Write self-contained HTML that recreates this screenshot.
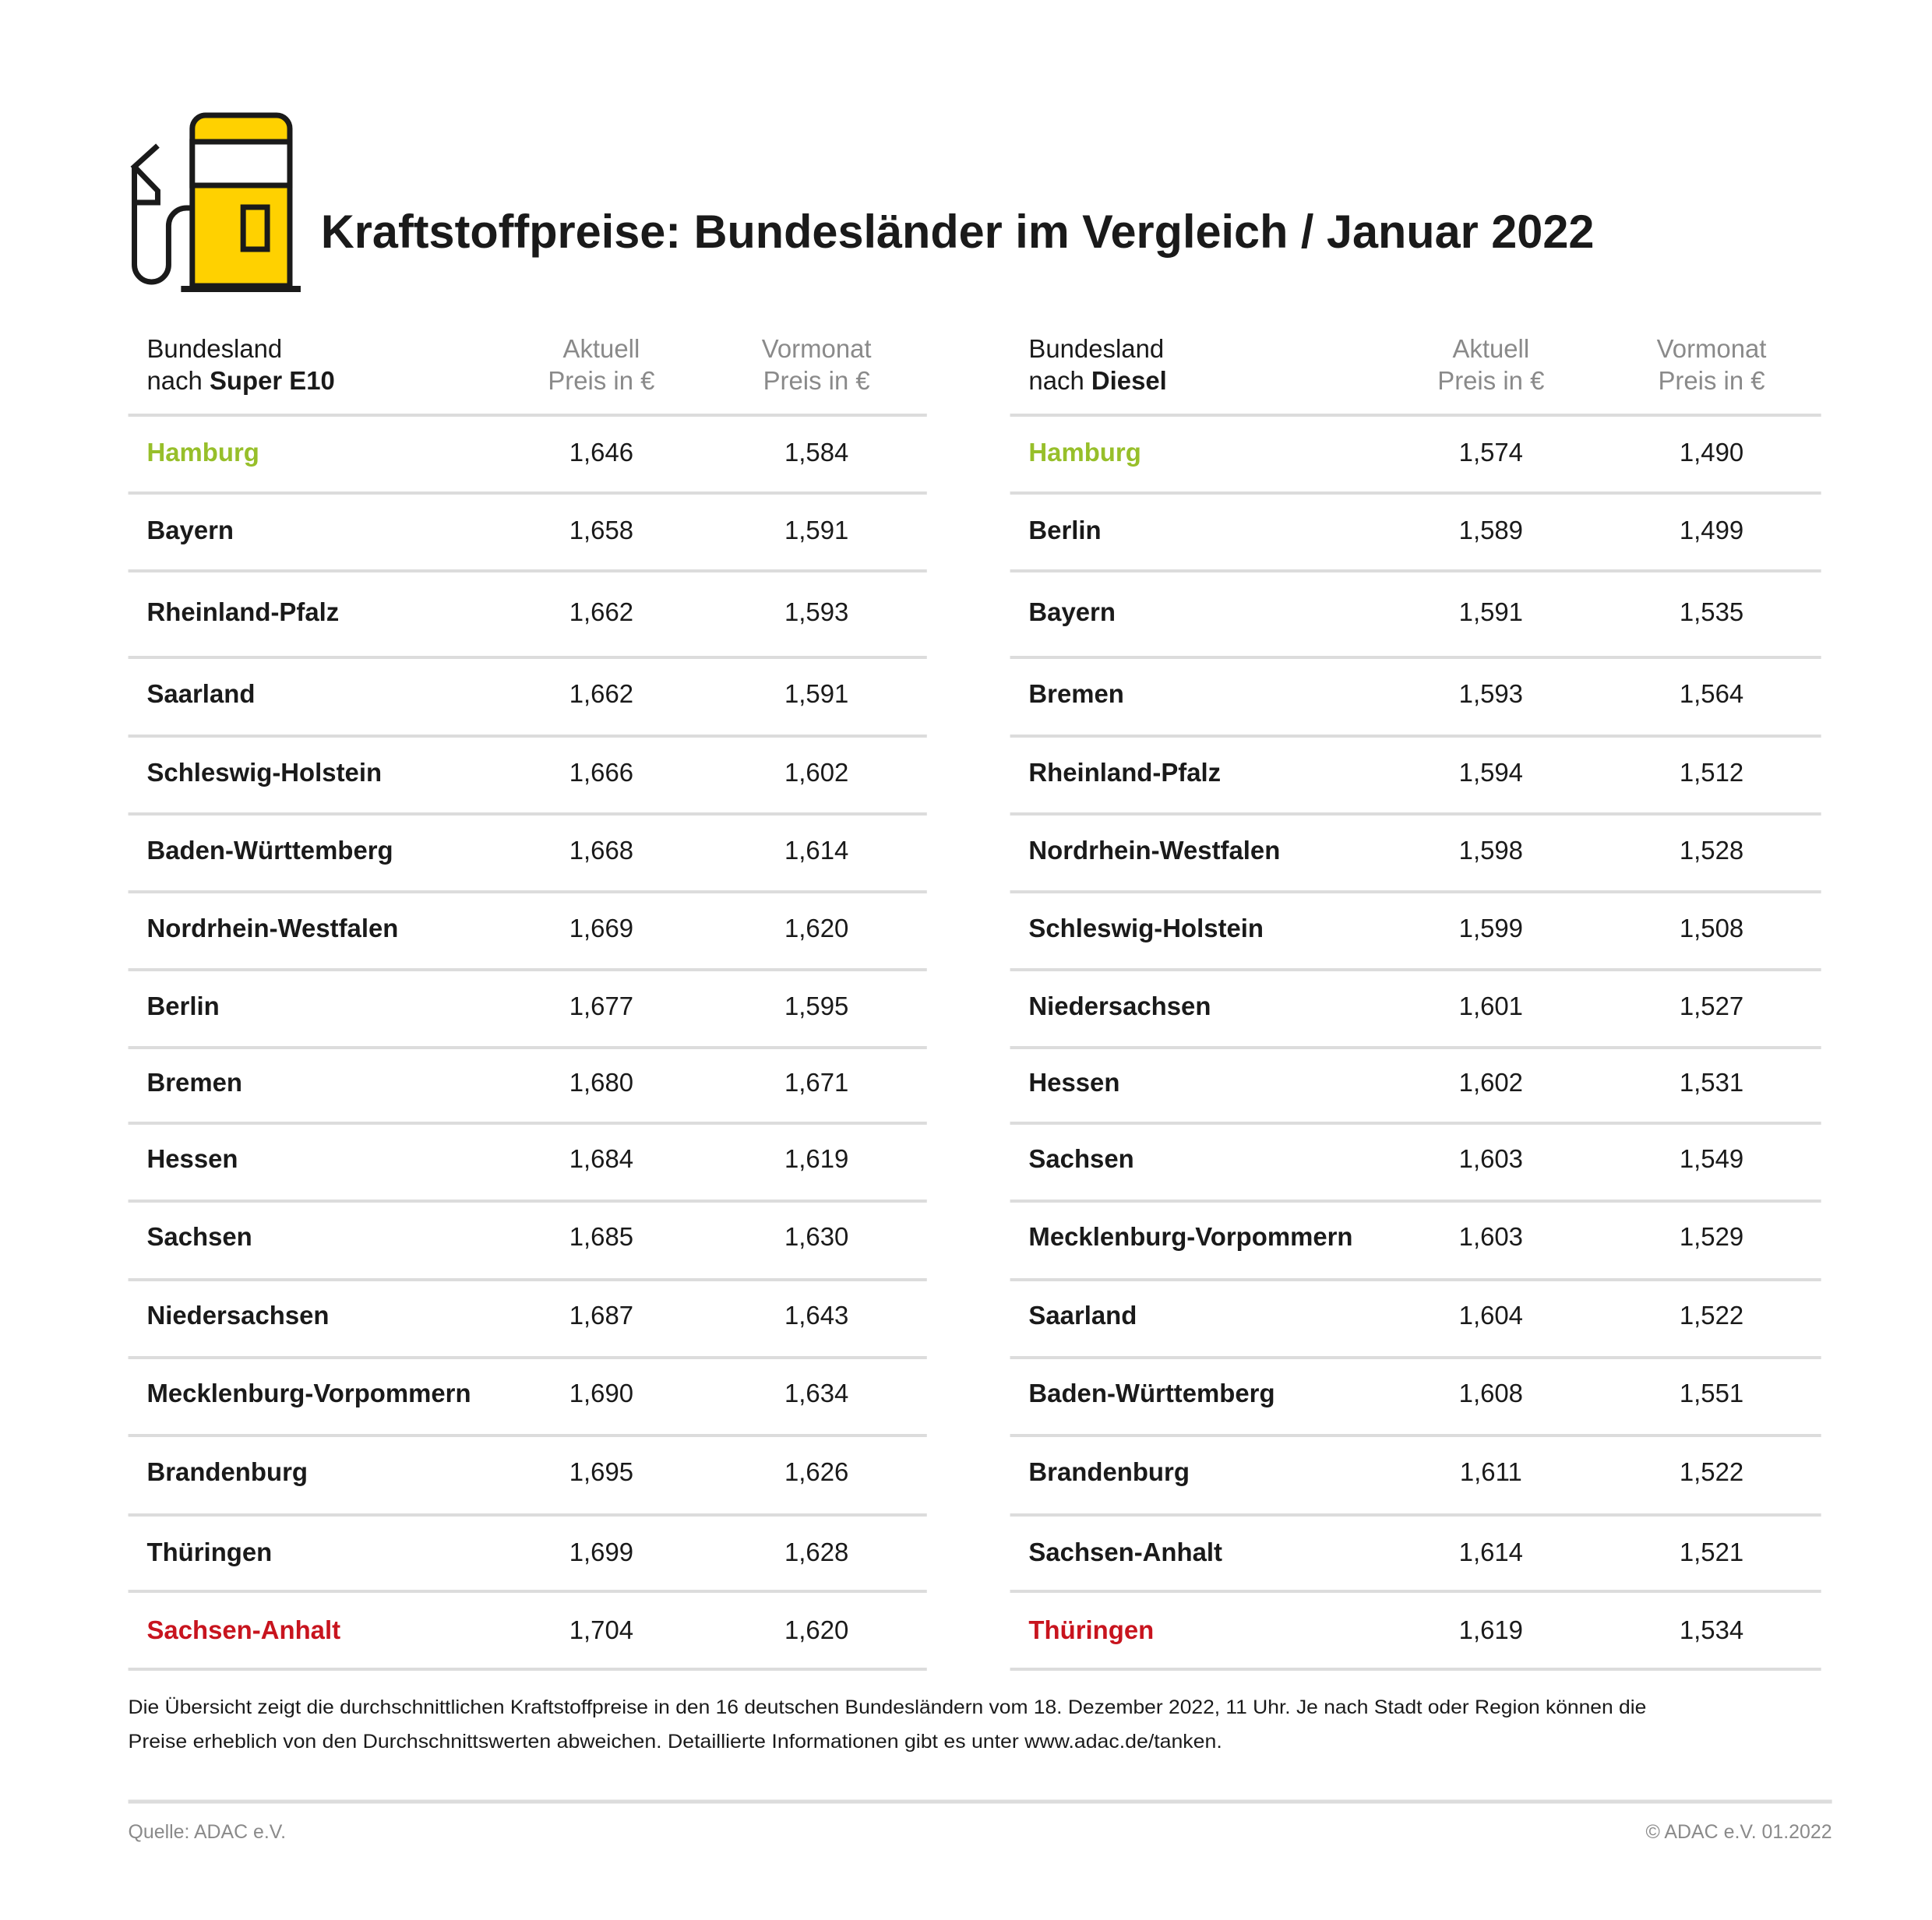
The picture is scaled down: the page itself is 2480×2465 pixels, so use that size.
<!DOCTYPE html>
<html><head><meta charset="utf-8"><style>
html,body{margin:0;padding:0;background:#fff}
svg{display:block}
text{font-family:"Liberation Sans",sans-serif}
.n{font-size:33px;fill:#1a1a1a;font-weight:bold}
.v{font-size:33px;fill:#1a1a1a;text-anchor:middle}
.h{font-size:33px;fill:#1a1a1a}
.g{font-size:33px;fill:#8a8a8a;text-anchor:middle}
</style></head><body>
<svg width="2480" height="2465" viewBox="0 0 2480 2465" xmlns="http://www.w3.org/2000/svg">
<rect width="2480" height="2465" fill="#fff"/>
<g transform="scale(0.9973,1)">
<!-- icon -->
<g stroke="#1a1a1a" stroke-width="7" fill="none" stroke-linejoin="miter">
<path d="M247.5 367 V165 a17 17 0 0 1 17 -17 H356 a17 17 0 0 1 17 17 V367 Z" fill="#ffd100"/>
<rect x="247.5" y="182" width="125.5" height="56" fill="#fff"/>
<rect x="313" y="266" width="31" height="54"/>
<line x1="233" y1="371" x2="387" y2="371" stroke-width="8"/>
<path d="M203 187 L173 214 L203 245 V260 H173"/>
<path d="M173 214 V340 a22 22 0 0 0 44 0 V290 a23 23 0 0 1 23 -23 H247"/>
</g>
<text x="413" y="318" font-size="60" font-weight="bold" fill="#1a1a1a" textLength="1639" lengthAdjust="spacingAndGlyphs">Kraftstoffpreise: Bundesländer im Vergleich / Januar 2022</text>
<!-- headers -->
<text class="h" x="189" y="459">Bundesland</text>
<text class="h" x="189" y="500">nach <tspan font-weight="bold">Super E10</tspan></text>
<text class="g" x="774" y="459">Aktuell</text><text class="g" x="774" y="500">Preis in €</text>
<text class="g" x="1051" y="459">Vormonat</text><text class="g" x="1051" y="500">Preis in €</text>
<text class="h" x="1324" y="459">Bundesland</text>
<text class="h" x="1324" y="500">nach <tspan font-weight="bold">Diesel</tspan></text>
<text class="g" x="1919" y="459">Aktuell</text><text class="g" x="1919" y="500">Preis in €</text>
<text class="g" x="2203" y="459">Vormonat</text><text class="g" x="2203" y="500">Preis in €</text>
<!-- lines -->
<g stroke="#dcdcdc" stroke-width="4">
<path d="M165 533H1193M165 633H1193M165 733H1193M165 844H1193M165 945H1193M165 1045H1193M165 1145H1193M165 1245H1193M165 1345H1193M165 1442H1193M165 1542H1193M165 1643H1193M165 1743H1193M165 1843H1193M165 1945H1193M165 2043H1193M165 2143H1193"/>
<path d="M1300 533H2344M1300 633H2344M1300 733H2344M1300 844H2344M1300 945H2344M1300 1045H2344M1300 1145H2344M1300 1245H2344M1300 1345H2344M1300 1442H2344M1300 1542H2344M1300 1643H2344M1300 1743H2344M1300 1843H2344M1300 1945H2344M1300 2043H2344M1300 2143H2344"/>
<path d="M165 2313H2358" stroke-width="5"/>
</g>
<!-- left table -->
<g>
<text class="n" x="189" y="592" style="fill:#97bf2a">Hamburg</text><text class="v" x="774" y="592">1,646</text><text class="v" x="1051" y="592">1,584</text>
<text class="n" x="189" y="692">Bayern</text><text class="v" x="774" y="692">1,658</text><text class="v" x="1051" y="692">1,591</text>
<text class="n" x="189" y="797">Rheinland-Pfalz</text><text class="v" x="774" y="797">1,662</text><text class="v" x="1051" y="797">1,593</text>
<text class="n" x="189" y="902">Saarland</text><text class="v" x="774" y="902">1,662</text><text class="v" x="1051" y="902">1,591</text>
<text class="n" x="189" y="1003">Schleswig-Holstein</text><text class="v" x="774" y="1003">1,666</text><text class="v" x="1051" y="1003">1,602</text>
<text class="n" x="189" y="1103">Baden-Württemberg</text><text class="v" x="774" y="1103">1,668</text><text class="v" x="1051" y="1103">1,614</text>
<text class="n" x="189" y="1203">Nordrhein-Westfalen</text><text class="v" x="774" y="1203">1,669</text><text class="v" x="1051" y="1203">1,620</text>
<text class="n" x="189" y="1303">Berlin</text><text class="v" x="774" y="1303">1,677</text><text class="v" x="1051" y="1303">1,595</text>
<text class="n" x="189" y="1401">Bremen</text><text class="v" x="774" y="1401">1,680</text><text class="v" x="1051" y="1401">1,671</text>
<text class="n" x="189" y="1499">Hessen</text><text class="v" x="774" y="1499">1,684</text><text class="v" x="1051" y="1499">1,619</text>
<text class="n" x="189" y="1599">Sachsen</text><text class="v" x="774" y="1599">1,685</text><text class="v" x="1051" y="1599">1,630</text>
<text class="n" x="189" y="1700">Niedersachsen</text><text class="v" x="774" y="1700">1,687</text><text class="v" x="1051" y="1700">1,643</text>
<text class="n" x="189" y="1800">Mecklenburg-Vorpommern</text><text class="v" x="774" y="1800">1,690</text><text class="v" x="1051" y="1800">1,634</text>
<text class="n" x="189" y="1901">Brandenburg</text><text class="v" x="774" y="1901">1,695</text><text class="v" x="1051" y="1901">1,626</text>
<text class="n" x="189" y="2004">Thüringen</text><text class="v" x="774" y="2004">1,699</text><text class="v" x="1051" y="2004">1,628</text>
<text class="n" x="189" y="2104" style="fill:#c8141e">Sachsen-Anhalt</text><text class="v" x="774" y="2104">1,704</text><text class="v" x="1051" y="2104">1,620</text>
</g>
<!-- right table -->
<g>
<text class="n" x="1324" y="592" style="fill:#97bf2a">Hamburg</text><text class="v" x="1919" y="592">1,574</text><text class="v" x="2203" y="592">1,490</text>
<text class="n" x="1324" y="692">Berlin</text><text class="v" x="1919" y="692">1,589</text><text class="v" x="2203" y="692">1,499</text>
<text class="n" x="1324" y="797">Bayern</text><text class="v" x="1919" y="797">1,591</text><text class="v" x="2203" y="797">1,535</text>
<text class="n" x="1324" y="902">Bremen</text><text class="v" x="1919" y="902">1,593</text><text class="v" x="2203" y="902">1,564</text>
<text class="n" x="1324" y="1003">Rheinland-Pfalz</text><text class="v" x="1919" y="1003">1,594</text><text class="v" x="2203" y="1003">1,512</text>
<text class="n" x="1324" y="1103">Nordrhein-Westfalen</text><text class="v" x="1919" y="1103">1,598</text><text class="v" x="2203" y="1103">1,528</text>
<text class="n" x="1324" y="1203">Schleswig-Holstein</text><text class="v" x="1919" y="1203">1,599</text><text class="v" x="2203" y="1203">1,508</text>
<text class="n" x="1324" y="1303">Niedersachsen</text><text class="v" x="1919" y="1303">1,601</text><text class="v" x="2203" y="1303">1,527</text>
<text class="n" x="1324" y="1401">Hessen</text><text class="v" x="1919" y="1401">1,602</text><text class="v" x="2203" y="1401">1,531</text>
<text class="n" x="1324" y="1499">Sachsen</text><text class="v" x="1919" y="1499">1,603</text><text class="v" x="2203" y="1499">1,549</text>
<text class="n" x="1324" y="1599">Mecklenburg-Vorpommern</text><text class="v" x="1919" y="1599">1,603</text><text class="v" x="2203" y="1599">1,529</text>
<text class="n" x="1324" y="1700">Saarland</text><text class="v" x="1919" y="1700">1,604</text><text class="v" x="2203" y="1700">1,522</text>
<text class="n" x="1324" y="1800">Baden-Württemberg</text><text class="v" x="1919" y="1800">1,608</text><text class="v" x="2203" y="1800">1,551</text>
<text class="n" x="1324" y="1901">Brandenburg</text><text class="v" x="1919" y="1901">1,611</text><text class="v" x="2203" y="1901">1,522</text>
<text class="n" x="1324" y="2004">Sachsen-Anhalt</text><text class="v" x="1919" y="2004">1,614</text><text class="v" x="2203" y="2004">1,521</text>
<text class="n" x="1324" y="2104" style="fill:#c8141e">Thüringen</text><text class="v" x="1919" y="2104">1,619</text><text class="v" x="2203" y="2104">1,534</text>
</g>
<!-- footnote -->
<text x="165" y="2200" font-size="25" fill="#1a1a1a" textLength="1954" lengthAdjust="spacingAndGlyphs">Die Übersicht zeigt die durchschnittlichen Kraftstoffpreise in den 16 deutschen Bundesländern vom 18. Dezember 2022, 11 Uhr. Je nach Stadt oder Region können die</text>
<text x="165" y="2244" font-size="25" fill="#1a1a1a" textLength="1408" lengthAdjust="spacingAndGlyphs">Preise erheblich von den Durchschnittswerten abweichen. Detaillierte Informationen gibt es unter www.adac.de/tanken.</text>
<text x="165" y="2360" font-size="25" fill="#8a8a8a" textLength="203" lengthAdjust="spacingAndGlyphs">Quelle: ADAC e.V.</text>
<text x="2358" y="2360" font-size="25" fill="#8a8a8a" text-anchor="end">© ADAC e.V. 01.2022</text>
</g>
</svg>
</body></html>
